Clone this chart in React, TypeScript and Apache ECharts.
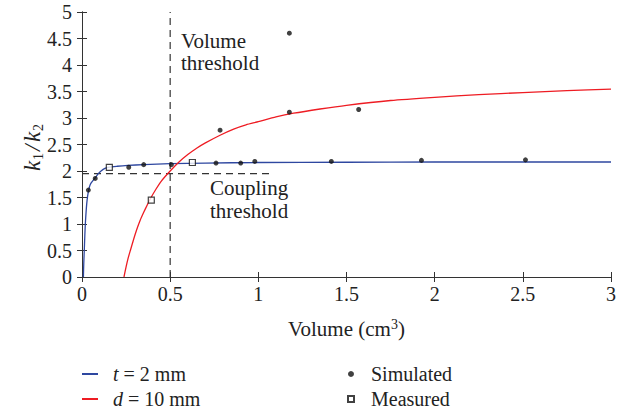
import React, { useEffect, useRef } from "react";
import * as echarts from "echarts";

const FONT = "'Liberation Serif', 'Times New Roman', serif";

// Curves ([volume, k1/k2])
const blueCurve: number[][] = [
  [0.008, 0], [0.01, 0.25], [0.013, 0.51], [0.016, 0.78], [0.019, 1.01], [0.023, 1.22],
  [0.027, 1.39], [0.032, 1.53], [0.038, 1.64], [0.044, 1.72], [0.051, 1.77], [0.062, 1.82],
  [0.075, 1.87], [0.09, 1.94], [0.108, 2.0], [0.13, 2.05], [0.155, 2.075], [0.2, 2.09],
  [0.26, 2.105], [0.35, 2.12], [0.5, 2.14], [0.7, 2.15], [1.0, 2.16], [1.5, 2.165],
  [2.0, 2.17], [3.0, 2.17],
];
const redCurve: number[][] = [
  [0.238, 0], [0.25, 0.19], [0.262, 0.36], [0.275, 0.51], [0.29, 0.68], [0.31, 0.89],
  [0.33, 1.07], [0.35, 1.22], [0.37, 1.36], [0.39, 1.49], [0.42, 1.66], [0.45, 1.81],
  [0.5, 2.0], [0.55, 2.17], [0.6, 2.31], [0.65, 2.43], [0.7, 2.53], [0.78, 2.67],
  [0.86, 2.79], [0.93, 2.87], [1.0, 2.93], [1.1, 3.02], [1.2, 3.09], [1.35, 3.17],
  [1.5, 3.24], [1.75, 3.33], [2.0, 3.39], [2.25, 3.44], [2.5, 3.48], [2.75, 3.515],
  [3.0, 3.545],
];
const simulated: number[][] = [
  [0.036, 1.64], [0.075, 1.86], [0.265, 2.07], [0.35, 2.12], [0.507, 2.12],
  [0.76, 2.15], [0.9, 2.15], [0.98, 2.18], [0.783, 2.77], [1.176, 4.6], [1.176, 3.11],
  [1.414, 2.18], [1.569, 3.16], [1.925, 2.2], [2.515, 2.21],
];
const measured: number[][] = [
  [0.155, 2.07], [0.393, 1.45], [0.626, 2.16],
];
const volumeThreshold: number[][] = [[0.5, 0], [0.5, 5]];
const couplingThreshold: number[][] = [[0, 1.95], [1.08, 1.95]];

const legendLines = ["t = 2 mm", "d = 10 mm"];
const legendMarks = ["Simulated", "Measured"];

export default function App() {
  const ref = useRef<HTMLDivElement>(null);
  useEffect(() => {
    if (!ref.current) return;
    const chart = echarts.init(ref.current, null, { renderer: "svg" });
    const axisCommon = {
      type: "value" as const,
      axisLine: { show: true, lineStyle: { color: "#333", width: 1 } },
      axisTick: { show: true, inside: true, length: 5, lineStyle: { color: "#333" } },
      splitLine: { show: false },
    };
    const legendFormatter = (name: string) => {
      const parts = name.split(" = ");
      if (parts.length === 2) return `{i|${parts[0]}}{n| = ${parts[1]}}`;
      return `{n|${name}}`;
    };
    const legendRich = {
      i: { fontFamily: FONT, fontStyle: "italic" as const, fontSize: 20, color: "#222" },
      n: { fontFamily: FONT, fontSize: 20, color: "#222" },
    };
    chart.setOption({
      animation: false,
      backgroundColor: "#fff",
      textStyle: { fontFamily: FONT },
      grid: { left: 82, right: 21, top: 12, bottom: 136 },
      xAxis: [
        {
          ...axisCommon,
          min: 0, max: 3, interval: 0.5,
          axisLabel: { fontFamily: FONT, fontSize: 20, color: "#222", margin: 7 },
          name: "{a|Volume (cm}{s|3}{a|)}",
          nameLocation: "middle",
          nameGap: 40,
          nameTextStyle: {
            fontFamily: FONT,
            fontSize: 21,
            color: "#222",
            rich: {
              a: { fontFamily: FONT, fontSize: 21, color: "#222", lineHeight: 24 },
              s: { fontFamily: FONT, fontSize: 14, color: "#222", lineHeight: 14, verticalAlign: "top" },
            },
          },
        },
        {
          ...axisCommon,
          position: "top",
          min: 0, max: 3, interval: 0.5,
          axisLabel: { show: false },
        },
      ],
      yAxis: [
        {
          ...axisCommon,
          min: 0, max: 5, interval: 0.5,
          axisLabel: { fontFamily: FONT, fontSize: 20, color: "#222", margin: 10 },
        },
        {
          ...axisCommon,
          position: "right",
          min: 0, max: 5, interval: 0.5,
          axisLabel: { show: false },
        },
      ],
      legend: [
        {
          data: legendLines,
          orient: "vertical",
          left: 82,
          top: 364,
          height: 49,
          padding: 0,
          itemGap: 5,
          itemWidth: 16,
          itemHeight: 2,
          icon: "rect",
          formatter: legendFormatter,
          textStyle: { rich: legendRich, padding: [0, 0, 0, 10] },
        },
        {
          data: [
            { name: legendMarks[0], icon: "circle" },
            { name: legendMarks[1], icon: "rect" },
          ],
          orient: "vertical",
          left: 347,
          top: 364,
          height: 49,
          padding: 0,
          itemGap: 5,
          itemWidth: 6,
          itemHeight: 6,
          formatter: legendFormatter,
          textStyle: { rich: legendRich, padding: [0, 0, 0, 12] },
        },
      ],
      series: [
        {
          name: legendLines[0],
          type: "line",
          data: blueCurve,
          showSymbol: false,
          symbol: "none",
          smooth: 0.2,
          lineStyle: { color: "#2e47a0", width: 1.3 },
          itemStyle: { color: "#2e47a0" },
          z: 3,
        },
        {
          name: legendLines[1],
          type: "line",
          data: redCurve,
          showSymbol: false,
          symbol: "none",
          smooth: 0.2,
          lineStyle: { color: "#ee1c23", width: 1.3 },
          itemStyle: { color: "#ee1c23" },
          z: 3,
        },
        {
          name: "volumeThreshold",
          type: "line",
          data: volumeThreshold,
          symbol: "none",
          lineStyle: { color: "#333", width: 1.2, type: [7, 5] },
          z: 2,
          silent: true,
        },
        {
          name: "couplingThreshold",
          type: "line",
          data: couplingThreshold,
          symbol: "none",
          lineStyle: { color: "#333", width: 1.2, type: [7, 5] },
          z: 2,
          silent: true,
        },
        {
          name: legendMarks[0],
          type: "scatter",
          data: simulated,
          symbol: "circle",
          symbolSize: 5,
          itemStyle: { color: "#111" },
          z: 5,
        },
        {
          name: legendMarks[1],
          type: "scatter",
          data: measured,
          symbol: "rect",
          symbolSize: 6,
          itemStyle: { color: "#fff", borderColor: "#111", borderWidth: 1.2 },
          z: 5,
        },
      ],
      graphic: [
        {
          type: "text",
          left: 181,
          top: 30,
          style: {
            text: "Volume\nthreshold",
            font: `21px ${FONT}`,
            fill: "#222",
            lineHeight: 22,
          },
        },
        {
          type: "text",
          left: 210,
          top: 176,
          style: {
            text: "Coupling\nthreshold",
            font: `21px ${FONT}`,
            fill: "#222",
            lineHeight: 23,
          },
        },
        {
          type: "group",
          x: 32,
          y: 145,
          rotation: Math.PI / 2,
          children: [
            { type: "text", x: -26, y: 0, style: { text: "k", font: `italic 23px ${FONT}`, fill: "#222", textVerticalAlign: "middle" } },
            { type: "text", x: -15, y: 6, style: { text: "1", font: `14px ${FONT}`, fill: "#222", textVerticalAlign: "middle" } },
            { type: "text", x: -6, y: 0, style: { text: "/", font: `italic 23px ${FONT}`, fill: "#222", textVerticalAlign: "middle" } },
            { type: "text", x: 3, y: 0, style: { text: "k", font: `italic 23px ${FONT}`, fill: "#222", textVerticalAlign: "middle" } },
            { type: "text", x: 14, y: 6, style: { text: "2", font: `14px ${FONT}`, fill: "#222", textVerticalAlign: "middle" } },
          ],
        },
      ],
    });
    return () => chart.dispose();
  }, []);
  return (
    <div
      ref={ref}
      style={{ position: "fixed", left: 0, top: 0, width: 632, height: 413 }}
    />
  );
}
